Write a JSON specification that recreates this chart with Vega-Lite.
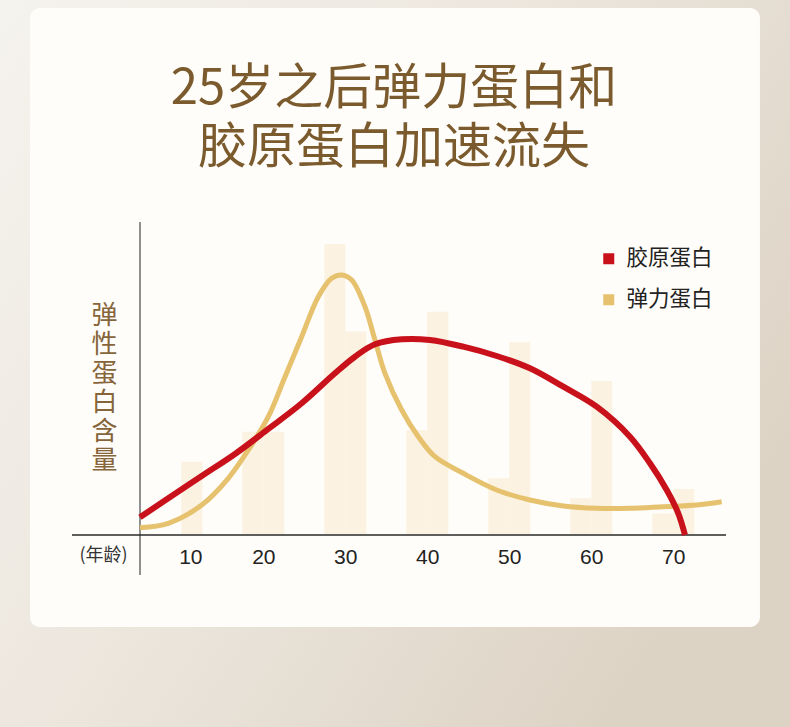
{
  "$schema": "https://vega.github.io/schema/vega-lite/v6.json",
  "autosize": {"type": "none"},
  "width": 586,
  "height": 313,
  "padding": {"left": 140, "top": 222, "right": 64, "bottom": 192},
  "background": "#ece6dd",
  "config": {
    "view": {"stroke": null},
    "axis": {"grid": false, "domain": false, "ticks": false}
  },
  "title": {
    "text": ["25岁之后弹力蛋白和", "胶原蛋白加速流失"],
    "font": "Noto Sans CJK SC",
    "fontSize": 49,
    "fontWeight": "normal",
    "color": "#7b5b2d",
    "lineHeight": 59,
    "anchor": "middle",
    "frame": "group",
    "baseline": "top",
    "dx": -39,
    "offset": -173
  },
  "datasets": {
    "bars": [
      {"decade": 10, "series": "胶原蛋白", "from": 10, "to": 12.56, "value": 23.4},
      {"decade": 20, "series": "弹力蛋白", "from": 17.44, "to": 20, "value": 33.0},
      {"decade": 20, "series": "胶原蛋白", "from": 20, "to": 22.56, "value": 33.0},
      {"decade": 30, "series": "弹力蛋白", "from": 27.44, "to": 30, "value": 93.0},
      {"decade": 30, "series": "胶原蛋白", "from": 30, "to": 32.56, "value": 65.0},
      {"decade": 40, "series": "弹力蛋白", "from": 37.44, "to": 40, "value": 33.5},
      {"decade": 40, "series": "胶原蛋白", "from": 40, "to": 42.56, "value": 71.3},
      {"decade": 50, "series": "弹力蛋白", "from": 47.44, "to": 50, "value": 18.1},
      {"decade": 50, "series": "胶原蛋白", "from": 50, "to": 52.56, "value": 61.6},
      {"decade": 60, "series": "弹力蛋白", "from": 57.44, "to": 60, "value": 11.7},
      {"decade": 60, "series": "胶原蛋白", "from": 60, "to": 62.56, "value": 49.2},
      {"decade": 70, "series": "弹力蛋白", "from": 67.44, "to": 70, "value": 6.9},
      {"decade": 70, "series": "胶原蛋白", "from": 70, "to": 72.56, "value": 14.7}
    ],
    "curves": [
      {"series": "胶原蛋白", "age": 4.96, "value": 5.65},
      {"series": "胶原蛋白", "age": 8.41, "value": 11.73},
      {"series": "胶原蛋白", "age": 12.49, "value": 18.85},
      {"series": "胶原蛋白", "age": 16.55, "value": 25.88},
      {"series": "胶原蛋白", "age": 20.61, "value": 33.87},
      {"series": "胶原蛋白", "age": 24.68, "value": 42.08},
      {"series": "胶原蛋白", "age": 28.74, "value": 51.66},
      {"series": "胶原蛋白", "age": 31.18, "value": 56.96},
      {"series": "胶原蛋白", "age": 33.62, "value": 60.93},
      {"series": "胶原蛋白", "age": 36.88, "value": 62.52},
      {"series": "胶原蛋白", "age": 40.33, "value": 62.3},
      {"series": "胶原蛋白", "age": 44.39, "value": 60.16},
      {"series": "胶原蛋白", "age": 48.46, "value": 57.19},
      {"series": "胶原蛋白", "age": 52.52, "value": 53.26},
      {"series": "胶原蛋白", "age": 56.59, "value": 47.38},
      {"series": "胶原蛋白", "age": 60.66, "value": 40.99},
      {"series": "胶原蛋白", "age": 64.72, "value": 31.41},
      {"series": "胶原蛋白", "age": 67.16, "value": 22.91},
      {"series": "胶原蛋白", "age": 69.2, "value": 14.38},
      {"series": "胶原蛋白", "age": 70.61, "value": 6.93},
      {"series": "胶原蛋白", "age": 71.43, "value": 0.0},
      {"series": "弹力蛋白", "age": 4.96, "value": 2.33},
      {"series": "弹力蛋白", "age": 8.41, "value": 3.74},
      {"series": "弹力蛋白", "age": 12.49, "value": 9.58},
      {"series": "弹力蛋白", "age": 15.73, "value": 18.12},
      {"series": "弹力蛋白", "age": 18.17, "value": 27.16},
      {"series": "弹力蛋白", "age": 20.61, "value": 37.8},
      {"series": "弹力蛋白", "age": 22.65, "value": 50.58},
      {"series": "弹力蛋白", "age": 24.68, "value": 63.35},
      {"series": "弹力蛋白", "age": 26.71, "value": 76.13},
      {"series": "弹力蛋白", "age": 28.34, "value": 82.01},
      {"series": "弹力蛋白", "age": 29.56, "value": 83.07},
      {"series": "弹力蛋白", "age": 30.78, "value": 81.47},
      {"series": "弹力蛋白", "age": 32.4, "value": 72.94},
      {"series": "弹力蛋白", "age": 33.62, "value": 62.3},
      {"series": "弹力蛋白", "age": 34.84, "value": 51.66},
      {"series": "弹力蛋白", "age": 36.88, "value": 39.94},
      {"series": "弹力蛋白", "age": 38.9, "value": 31.41},
      {"series": "弹力蛋白", "age": 40.94, "value": 25.02},
      {"series": "弹力蛋白", "age": 44.39, "value": 19.71},
      {"series": "弹力蛋白", "age": 48.46, "value": 14.38},
      {"series": "弹力蛋白", "age": 52.52, "value": 11.18},
      {"series": "弹力蛋白", "age": 56.59, "value": 9.27},
      {"series": "弹力蛋白", "age": 60.66, "value": 8.53},
      {"series": "弹力蛋白", "age": 64.72, "value": 8.53},
      {"series": "弹力蛋白", "age": 68.78, "value": 9.04},
      {"series": "弹力蛋白", "age": 72.85, "value": 9.58},
      {"series": "弹力蛋白", "age": 75.9, "value": 10.64}
    ]
  },
  "layer": [
    {
      "data": {"values": [{}]},
      "mark": {
        "type": "rect",
        "clip": false,
        "color": {
          "gradient": "linear",
          "x1": 0, "y1": 0, "x2": 1, "y2": 0.6,
          "stops": [
            {"offset": 0, "color": "#f5f3ee"},
            {"offset": 0.5, "color": "#ece6dd"},
            {"offset": 1, "color": "#ddd3c5"}
          ]
        }
      },
      "encoding": {
        "x": {"datum": -12.11, "type": "quantitative", "scale": {"domain": [4.963, 76.43], "nice": false, "zero": false}, "axis": {
          "zindex": 2,
          "values": [10, 20, 30, 40, 50, 60, 70],
          "labelFont": "Liberation Sans",
          "labelFontSize": 21,
          "labelColor": "#222222",
          "labelPadding": 11,
          "labelOffset": {"condition": {"test": "datum.value === 10", "value": 9}, "value": 0},
          "title": "(年龄)",
          "titleFont": "Noto Sans CJK SC",
          "titleFontSize": 18,
          "titleFontWeight": "normal",
          "titleColor": "#333333",
          "titleAngle": 0,
          "titleAlign": "center",
          "titleBaseline": "middle",
          "titleX": -37,
          "titleY": 20
        }},
        "x2": {"datum": 84.23},
        "y": {"datum": 170.93, "type": "quantitative", "scale": {"domain": [0, 100], "nice": false}, "axis": {
          "zindex": 2,
          "labels": false,
          "title": ["弹", "性", "蛋", "白", "含", "量"],
          "titleFont": "Noto Sans CJK SC",
          "titleFontSize": 26,
          "titleFontWeight": "normal",
          "titleColor": "#86653a",
          "titleAngle": 0,
          "titleAlign": "center",
          "titleBaseline": "top",
          "titleLineHeight": 29,
          "titleX": -36,
          "titleY": 80
        }},
        "y2": {"datum": -61.34}
      }
    },
    {
      "data": {"values": [{}]},
      "mark": {"type": "rect", "clip": false, "color": "#fefdf9", "cornerRadius": 10},
      "encoding": {
        "x": {"datum": -8.45, "type": "quantitative"},
        "x2": {"datum": 80.57},
        "y": {"datum": 168.37, "type": "quantitative"},
        "y2": {"datum": -29.39}
      }
    },
    {
      "data": {"name": "bars"},
      "mark": {"type": "bar", "color": "#fbf2e1", "clip": false},
      "encoding": {
        "x": {"field": "from", "type": "quantitative"},
        "x2": {"field": "to"},
        "y": {"field": "value", "type": "quantitative"},
        "y2": {"datum": 0}
      }
    },
    {
      "data": {"values": [{}]},
      "mark": {"type": "rule", "clip": false, "color": "#6b6b6b", "strokeWidth": 1.5},
      "encoding": {
        "x": {"datum": 4.963, "type": "quantitative"},
        "y": {"datum": 100, "type": "quantitative"},
        "y2": {"datum": -12.78}
      }
    },
    {
      "data": {"values": [{}]},
      "mark": {"type": "rule", "clip": false, "color": "#2a2a2a", "strokeWidth": 1.3},
      "encoding": {
        "x": {"datum": -3.33, "type": "quantitative"},
        "x2": {"datum": 76.43},
        "y": {"datum": 0, "type": "quantitative"}
      }
    },
    {
      "data": {"name": "curves"},
      "transform": [{"filter": "datum.series === '弹力蛋白'"}],
      "mark": {"type": "line", "interpolate": "catmull-rom", "strokeWidth": 5, "clip": false},
      "encoding": {
        "x": {"field": "age", "type": "quantitative"},
        "y": {"field": "value", "type": "quantitative"},
        "color": {"field": "series", "type": "nominal"}
      }
    },
    {
      "data": {"name": "curves"},
      "transform": [{"filter": "datum.series === '胶原蛋白'"}],
      "mark": {"type": "line", "interpolate": "catmull-rom", "strokeWidth": 6, "clip": false},
      "encoding": {
        "x": {"field": "age", "type": "quantitative"},
        "y": {"field": "value", "type": "quantitative"},
        "color": {
          "field": "series",
          "type": "nominal",
          "scale": {"domain": ["胶原蛋白", "弹力蛋白"], "range": ["#c8111a", "#e6c16e"]},
          "legend": {
            "orient": "none",
            "legendX": 458,
            "legendY": 26,
            "title": null,
            "padding": 0,
            "symbolType": "square",
            "symbolSize": 121,
            "symbolStrokeWidth": 0,
            "labelFont": "Noto Sans CJK SC",
            "labelFontSize": 21.5,
            "labelColor": "#222222",
            "labelOffset": 7,
            "rowPadding": 18,
            "encode": {
              "symbols": {"update": {"fill": {"scale": "color", "field": "value"}, "opacity": {"value": 1}}}
            }
          }
        }
      }
    }
  ]
}
